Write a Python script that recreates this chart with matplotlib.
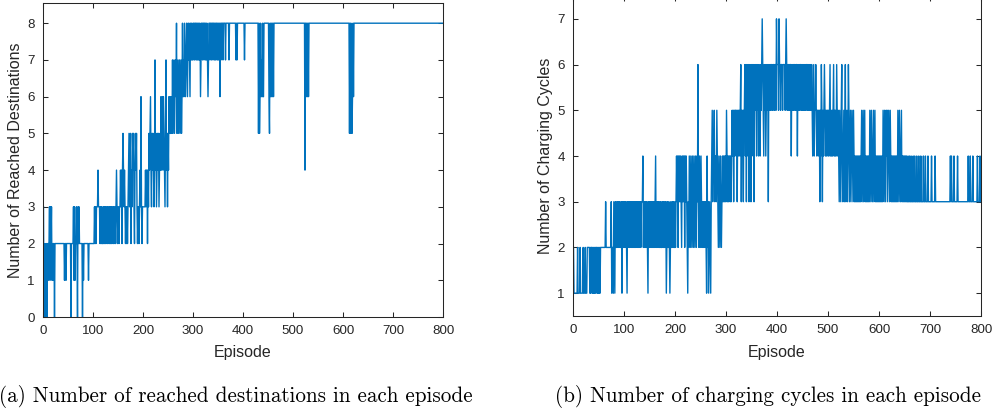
import matplotlib
matplotlib.use("Agg")
import matplotlib.pyplot as plt
import numpy as np

# values, one digit per episode (50 episodes per line)
reached_txt = [
    "3002002021 2231323121 2202222222 2222222222 2212212222",
    "2222202222 3131223203 2322222202 1222222222 1222222222",
    "2232323334 3332323223 2323233232 3323232332 3233234323",
    "3233434245 4343232323 4534524354 5324545323 3234363233",
    "3333434424 3545643545 4347453454 5345464564 6543574535",
    "4656556575 6756768567 5675675686 7687678768 7876878778",
    "8787887878 7878678878 8788787876 7887887887 8878788787",
    "8786878887 8888788888 8788888888 8888878788 8888888888",
    "8878888888 8888888888 8888888888 5856867686 6888888888",
    "8658686868 6888888888 8888888888 8888888888 8888888888",
    "8888888888 8888888888 8884886868 6888888888 8888888888",
    "8888888888 8888888888 8888888888 8888888888 8888888888",
    "8888888888 8858586568 6888888888 8888888888 8888888888",
    "8888888888 8888888888 8888888888 8888888888 8888888888",
    "8888888888 8888888888 8888888888 8888888888 8888888888",
    "8888888888 8888888888 8888888888 8888888888 8888888888",
]
charging_txt = [
    "2111111121 1112111112 1112111222 2212122121 2121221212",
    "1212222222 2223222222 2222312213 2132232323 2322313232",
    "3323213233 2332323233 2323323233 2323334232 3232321323",
    "2332323232 3423233232 2322323223 2312322321 2322323223",
    "2343424343 4324343424 3432132432 4324324324 3243632432",
    "4323232323 2142312321 3453445344 3543243243 2343434343",
    "5434344343 4545354554 5354554563 5453556463 6546356536",
    "5646356564 6564564656 7654656456 5636565665 6566566576",
    "6657665666 5666656765 6566566465 6566565664 6565665656",
    "5656565665 6565655654 5645565455 4553546535 4565454554",
    "5456454545 6454546545 4354356434 5346345346 5345345435",
    "4343434343 4343453453 4534343434 3543543453 4534343434",
    "3434343543 5435453454 3543434343 4343435435 4345343434",
    "3434334334 3343334334 3334333433 3433334333 4333343333",
    "3343333334 3333333333 3333333333 3333333334 3433334333",
    "3334333333 3333333333 3333433343 3334333333 3343333433",
]
reached = np.array([int(c) for c in "".join(reached_txt).replace(" ", "")])
charging = np.array([int(c) for c in "".join(charging_txt).replace(" ", "")])
episodes = np.arange(1, len(reached) + 1)

captions = ["(a) Number of reached destinations in each episode",
            "(b) Number of charging cycles in each episode"]

W, H = 997, 412
fig = plt.figure(figsize=(W / 100, H / 100), dpi=100)
blue = "#0072BD"
dark = "#262626"
sans = "Liberation Sans"

def setup(ax, yticks, ylabel):
    ax.set_xlim(0, 800)
    ax.set_xticks(range(0, 801, 100))
    ax.set_yticks(yticks)
    ax.tick_params(direction="in", top=True, right=True, length=3.6, width=0.75,
                   colors=dark, labelsize=9.6, pad=6)
    for lab in ax.get_xticklabels() + ax.get_yticklabels():
        lab.set_fontfamily(sans)
    for s in ax.spines.values():
        s.set_color(dark)
        s.set_linewidth(0.75)
    ax.set_xlabel("Episode", fontsize=11.5, family=sans, color=dark)
    ax.set_ylabel(ylabel, fontsize=11.5, family=sans, color=dark)

# left panel
ax1 = fig.add_axes([43 / W, 1 - 317 / H, 400 / W, 314 / H])
ax1.plot(episodes, reached, color=blue, lw=1.0)
ax1.set_ylim(0, 8.55)
setup(ax1, range(0, 9), "Number of Reached Destinations")
ax1.xaxis.set_label_coords(0.5, -0.089)
ax1.yaxis.set_label_coords(-0.0675, 0.5)
ax1.yaxis.label.set_va("center")

# right panel (top edge runs just past the picture)
ax2 = fig.add_axes([573 / W, 1 - 316 / H, 408 / W, 320 / H])
ax2.plot(np.arange(1, len(charging) + 1), charging, color=blue, lw=1.0)
ax2.set_ylim(0.5, 7.5)
setup(ax2, range(1, 8), "Number of Charging Cycles")
ax2.xaxis.set_label_coords(0.5, -0.09)
ax2.yaxis.set_label_coords(-0.0686, 0.5)
ax2.yaxis.label.set_va("center")

fig.text(236 / W, 1 - 396 / H, captions[0], family="cmr10", fontsize=15.2,
         ha="center", va="center")
fig.text(768 / W, 1 - 396 / H, captions[1], family="cmr10", fontsize=15.2,
         ha="center", va="center")

fig.savefig("out.png", dpi=100)
